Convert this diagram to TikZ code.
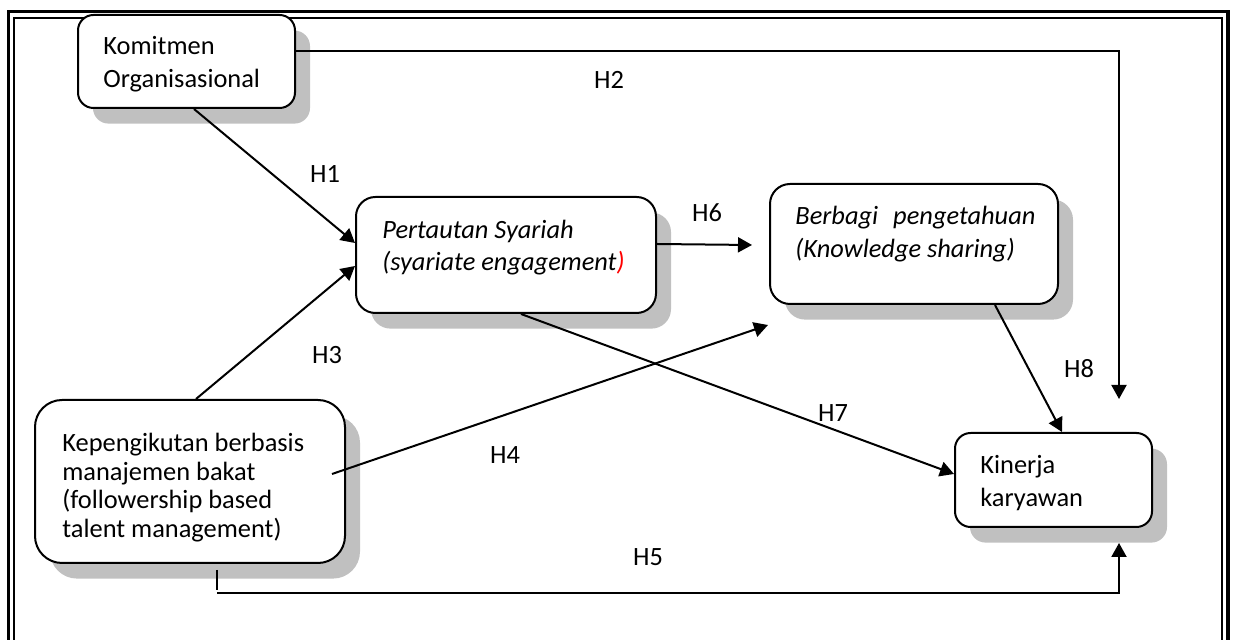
\documentclass[tikz,border=0pt]{standalone}
\usepackage{fontspec}
\setmainfont{Carlito}
\usetikzlibrary{arrows.meta,shadows,calc}
\definecolor{shadowgray}{RGB}{192,192,192}
\begin{document}
\begin{tikzpicture}[x=0.5pt,y=-0.5pt,
  box/.style={draw, line width=1pt, fill=white, inner sep=0pt,
    general shadow={fill=shadowgray, shadow xshift=7.5pt, shadow yshift=-7.8pt}},
  txt/.style={anchor=base west, inner sep=0pt},
  lbl/.style={inner sep=0pt, font=\fontsize{13.2}{16}\selectfont},
  conn/.style={line width=1pt},
  arr/.style={conn, -{Triangle[length=7pt,width=7.5pt]}}]
\useasboundingbox (0,0) rectangle (1238,640);
\clip (0,0) rectangle (1238,640);

% double frame
\draw[line width=1.75pt] (8.5,11.5) rectangle (1228,700);
\draw[line width=1pt] (14,18) rectangle (1222,700);

% variables
\node[box, minimum width=108.5pt, minimum height=46.5pt, rounded corners=7.75pt] (kom) at (186.5,61.5) {};
\node[box, minimum width=150pt, minimum height=58pt, rounded corners=9.7pt] (per) at (506,255) {};
\node[box, minimum width=144pt, minimum height=60pt, rounded corners=10pt] (ber) at (914,244) {};
\node[box, minimum width=155pt, minimum height=81.5pt, rounded corners=13.5pt] (kep) at (190,481.5) {};
\node[box, minimum width=98.5pt, minimum height=47pt, rounded corners=7.8pt] (kin) at (1053.5,480) {};

% box texts
\node[txt] (kom-t) at (103,55) {\parbox[t]{110pt}{\fontsize{13.2}{16.5}\selectfont Komitmen\\Organisasional}};
\node[txt] (per-t) at (382,239) {\parbox[t]{130pt}{\fontsize{13.2}{16}\selectfont\itshape Pertautan Syariah\\(syariate engagement\textcolor{red}{)}}};
\node[txt] (ber-t) at (795,225) {\parbox[t]{125pt}{\fontsize{13.2}{16.5}\selectfont\itshape \makebox[120pt][s]{Berbagi pengetahuan}\\(Knowledge sharing)}};
\node[txt] (kep-t) at (62,452) {\parbox[t]{140pt}{\fontsize{13.2}{14.25}\selectfont Kepengikutan berbasis\\manajemen bakat\\(followership based\\talent management)}};
\node[txt] (kin-t) at (980,474) {\parbox[t]{80pt}{\fontsize{13.2}{16.5}\selectfont Kinerja\\karyawan}};

% free ends
\coordinate (h2end) at (1119,399);
\coordinate (h4end) at (768,325);
\coordinate (h6end) at (752,245);
\coordinate (h5tick) at (217,570);
\coordinate (h5start) at (217,593);
\coordinate (h5end) at (1119,543);

% connectors
\draw[arr] (kom.north east |- 0,51) -| (h2end);
\draw[arr] ($(kom.south west)+(117,0)$) -- ($(per.north west)+(0,47)$);
\draw[arr] ($(kep.north west)+(162,0)$) -- ($(per.north west)+(0,70)$);
\draw[arr] ($(kep.north west)+(298,75)$) -- (h4end);
\draw[arr] ($(per.north east)+(0,48)$) -- (h6end);
\draw[arr] ($(per.south west)+(166,0)$) -- ($(kin.north west)+(0,42)$);
\draw[arr] ($(ber.south west)+(226,0)$) -- ($(kin.north west)+(108,0)$);
\draw[conn] (h5tick) -- ++(0,20);
\draw[arr] (h5start) -| (h5end);

% hypothesis labels
\node[lbl] (h1) at (325,174) {H1};
\node[lbl] (h2) at (609,80) {H2};
\node[lbl] (h3) at (327,355) {H3};
\node[lbl] (h4) at (505,455) {H4};
\node[lbl] (h5) at (648,557) {H5};
\node[lbl] (h6) at (707,213) {H6};
\node[lbl] (h7) at (833,413) {H7};
\node[lbl] (h8) at (1079,369) {H8};
\end{tikzpicture}
\end{document}
